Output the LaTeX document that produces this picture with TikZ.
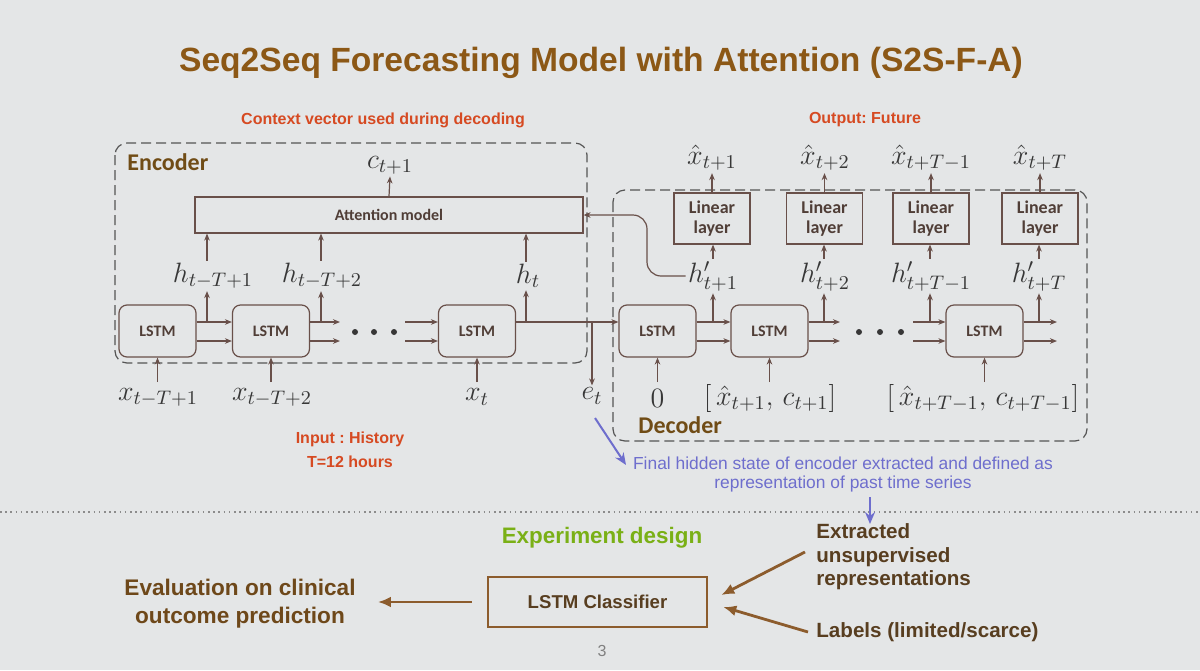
\RequirePackage{fix-cm}
\documentclass[tikz,border=0pt]{standalone}
\usepackage[no-math]{fontspec}
\setmainfont{Liberation Sans}
\newfontfamily\calfont{Carlito}
\usetikzlibrary{arrows.meta,calc}
\definecolor{bg}{RGB}{228,230,231}
\definecolor{titlec}{RGB}{140,88,22}
\definecolor{redl}{RGB}{214,74,34}
\definecolor{linec}{RGB}{105,80,74}
\definecolor{dashc}{RGB}{85,85,85}
\definecolor{grpc}{RGB}{112,76,22}
\definecolor{mathc}{RGB}{55,55,55}
\definecolor{boxtxt}{RGB}{80,62,55}
\definecolor{bluec}{RGB}{110,110,205}
\definecolor{greenc}{RGB}{122,176,22}
\definecolor{brownt}{RGB}{110,72,26}
\definecolor{brownd}{RGB}{88,62,32}
\definecolor{brarrc}{RGB}{140,92,45}
\definecolor{dotc}{RGB}{140,140,140}
\begin{document}
\frenchspacing
\begin{tikzpicture}[x=0.5pt,y=-0.5pt,
  arr/.style={draw=linec,line width=0.6pt,-{Stealth[length=3.5pt,width=2.8pt]}},
  lstm/.style={draw=linec,line width=0.6pt,rounded corners=4pt,minimum width=38.5pt,minimum height=26pt,inner sep=0pt,
    font=\calfont\bfseries\fontsize{8}{9}\selectfont,text=boxtxt},
  linb/.style={draw=linec,line width=0.6pt,minimum width=38pt,minimum height=25.5pt,inner sep=0pt,align=center,
    font=\calfont\bfseries\fontsize{9}{9.6}\selectfont,text=boxtxt},
  attb/.style={draw=linec,line width=0.6pt,minimum width=194pt,minimum height=18pt,inner sep=0pt,
    font=\calfont\bfseries\fontsize{8}{9}\selectfont,text=boxtxt},
  mlab/.style={inner sep=1pt,text=mathc,font=\fontsize{14}{16}\selectfont},
  dbox/.style={draw=dashc,line width=0.6pt,dash pattern=on 5pt off 2.5pt,rounded corners=6pt},
  grp/.style={inner sep=0pt,text=grpc,font=\calfont\bfseries\fontsize{12}{14}\selectfont},
  redt/.style={inner sep=0pt,text=redl,font=\frenchspacing\bfseries\fontsize{8}{12}\selectfont,align=center},
  title/.style={inner sep=0pt,text=titlec,font=\bfseries\fontsize{16.8}{20}\selectfont},
  bluet/.style={inner sep=0pt,text=bluec,font=\fontsize{8.7}{9.5}\selectfont,align=center},
  barr/.style={draw=bluec,line width=1pt,-{Stealth[length=6pt,width=5pt]}},
  greent/.style={inner sep=0pt,text=greenc,font=\bfseries\fontsize{11.2}{13}\selectfont},
  evalt/.style={inner sep=0pt,text=brownt,font=\bfseries\fontsize{11.3}{14}\selectfont,align=center},
  rtxt/.style={inner sep=0pt,text=brownd,font=\bfseries\fontsize{10.3}{11.7}\selectfont,align=left},
  clsb/.style={draw=brarrc,line width=1.3pt,minimum width=109.5pt,minimum height=25pt,inner sep=0pt,text=brownd,
    font=\bfseries\fontsize{9.3}{11}\selectfont},
  brarr/.style={draw=brarrc,line width=1.4pt,-{Latex[length=6.5pt,width=5.5pt]}},
  dotline/.style={draw=dotc,line width=1pt,dash pattern=on 0.8pt off 1.8pt},
  dotf/.style={fill=mathc}
]
\fill[bg] (0,0) rectangle (1200,670);
\useasboundingbox (0,0) rectangle (1200,670);

% title and headings
\node[title] (ttl) at (601,63) {Seq2Seq Forecasting Model with Attention (S2S-F-A)};
\node[redt] (ctx) at (383,120) {Context vector used during decoding};
\node[redt] (outf) at (865,120) {Output: Future};
\node[redt] (inp) at (350,450) {Input : History\\T=12 hours};

% group boxes
\draw[dbox] (115,143) rectangle (587,363);
\draw[dbox] (613,190) rectangle (1087,441);
\node[grp,anchor=west] (enclab) at (127,162) {Encoder};
\node[grp,anchor=west] (declab) at (638,425) {Decoder};

% LSTM cells
\node[lstm] (e1) at (157.5,331) {LSTM};
\node[lstm] (e2) at (271,331) {LSTM};
\node[lstm] (e3) at (477,331) {LSTM};
\node[lstm] (d1) at (657.5,331) {LSTM};
\node[lstm] (d2) at (769.5,331) {LSTM};
\node[lstm] (d3) at (984.5,331) {LSTM};

\coordinate (uy) at (0,322);
\coordinate (ly) at (0,341);
\coordinate (iny) at (0,382);

% encoder chain
\draw[arr] (e1.east|-uy) -- (e2.west|-uy);
\draw[arr] (e1.east|-ly) -- (e2.west|-ly);
\coordinate (e2ou) at (340,322); \coordinate (e2ol) at (340,341);
\draw[arr] (e2.east|-uy) -- (e2ou);
\draw[arr] (e2.east|-ly) -- (e2ol);
\coordinate (e3iu) at (405,322); \coordinate (e3il) at (405,341);
\draw[arr] (e3iu) -- (e3.west|-uy);
\draw[arr] (e3il) -- (e3.west|-ly);
\draw[arr] (e3.east|-uy) -- (d1.west|-uy);
\foreach \xx in {355,374,394,859,880,901} \fill[dotf] (\xx,332) circle (1.5pt);

% decoder chain
\draw[arr] (d1.east|-uy) -- (d2.west|-uy);
\draw[arr] (d1.east|-ly) -- (d2.west|-ly);
\coordinate (d2ou) at (840,322); \coordinate (d2ol) at (840,341);
\draw[arr] (d2.east|-uy) -- (d2ou);
\draw[arr] (d2.east|-ly) -- (d2ol);
\coordinate (d3iu) at (913,322); \coordinate (d3il) at (913,341);
\draw[arr] (d3iu) -- (d3.west|-uy);
\draw[arr] (d3il) -- (d3.west|-ly);
\coordinate (d3ou) at (1057,322); \coordinate (d3ol) at (1057,341);
\draw[arr] (d3.east|-uy) -- (d3ou);
\draw[arr] (d3.east|-ly) -- (d3ol);

% junctions
\coordinate (je1) at (207,322);
\coordinate (je2) at (321,322);
\coordinate (je3) at (526,322);
\coordinate (jet) at (592,322);
\coordinate (jd1) at (713,322);
\coordinate (jd2) at (824,322);
\coordinate (jd3) at (930,322);
\coordinate (jd4) at (1039,322);

% attention
\node[attb] (att) at (389,215) {Attention model};
\node[mlab] (c) at (390,165) {$c_{t+1}$};
\draw[arr] (att.north) -- (c.south);

% encoder hidden states
\node[mlab] (h1) at (213,276) {$h_{t-T+1}$};
\node[mlab] (h2) at (322,276) {$h_{t-T+2}$};
\node[mlab] (h3) at (528,276) {$h_t$};
\draw[arr] (je1) -- (je1|-h1.south);
\draw[arr] (je2) -- (je2|-h2.south);
\draw[arr] (je3) -- (je3|-h3.south);
\draw[arr] (je1|-h1.north) -- (je1|-att.south);
\draw[arr] (je2|-h2.north) -- (je2|-att.south);
\draw[arr] (je3|-h3.north) -- (je3|-att.south);

% encoder inputs
\node[mlab] (x1) at (158,397) {$x_{t-T+1}$};
\node[mlab] (x2) at (272,397) {$x_{t-T+2}$};
\node[mlab] (x3) at (477,397) {$x_t$};
\draw[arr] (e1.south|-iny) -- (e1.south);
\draw[arr] (e2.south|-iny) -- (e2.south);
\draw[arr] (e3.south|-iny) -- (e3.south);

% e_t
\node[mlab] (et) at (592,396) {$e_t$};
\draw[arr] (jet) -- (et.north);

% decoder linear layers
\node[linb] (L1) at (712,218.5) {Linear\\layer};
\node[linb] (L2) at (824.5,218.5) {Linear\\layer};
\node[linb] (L3) at (931,218.5) {Linear\\layer};
\node[linb] (L4) at (1040,218.5) {Linear\\layer};
\node[mlab] (o1) at (712,158) {$\hat{x}_{t+1}$};
\node[mlab] (o2) at (825,158) {$\hat{x}_{t+2}$};
\node[mlab] (o3) at (931,158) {$\hat{x}_{t+T-1}$};
\node[mlab] (o4) at (1040,158) {$\hat{x}_{t+T}$};
\draw[arr] (L1.north) -- (L1.north|-o1.south);
\draw[arr] (L2.north) -- (L2.north|-o2.south);
\draw[arr] (L3.north) -- (L3.north|-o3.south);
\draw[arr] (L4.north) -- (L4.north|-o4.south);

\node[mlab] (hp1) at (713,276) {$h'_{t+1}$};
\node[mlab] (hp2) at (825,276) {$h'_{t+2}$};
\node[mlab] (hp3) at (931,276) {$h'_{t+T-1}$};
\node[mlab] (hp4) at (1039,276) {$h'_{t+T}$};
\draw[arr] (jd1) -- (jd1|-hp1.south);
\draw[arr] (jd2) -- (jd2|-hp2.south);
\draw[arr] (jd3) -- (jd3|-hp3.south);
\draw[arr] (jd4) -- (jd4|-hp4.south);
\draw[arr] (jd1|-hp1.north) -- (jd1|-L1.south);
\draw[arr] (jd2|-hp2.north) -- (jd2|-L2.south);
\draw[arr] (jd3|-hp3.north) -- (jd3|-L3.south);
\draw[arr] (jd4|-hp4.north) -- (jd4|-L4.south);

% decoder state to attention
\coordinate (bend) at (647,215);
\draw[arr,rounded corners=7pt] (hp1.west) -| (bend) -- (att.east);

% decoder inputs
\node[mlab] (z0) at (657.5,398) {$0$};
\node[mlab,inner sep=0pt] (in2) at (770,398) {$[\,\hat{x}_{t+1},\,c_{t+1}]$};
\node[mlab,inner sep=0pt] (in3) at (983,398) {$[\,\hat{x}_{t+T-1},\,c_{t+T-1}]$};
\draw[arr] (d1.south|-iny) -- (d1.south);
\draw[arr] (d2.south|-iny) -- (d2.south);
\draw[arr] (d3.south|-iny) -- (d3.south);

% blue annotation
\node[bluet] (fin) at (843,474.5) {Final hidden state of encoder extracted and defined as\\representation of past time series};
\coordinate (b1) at (595,418);
\coordinate (b2) at (626,465);
\draw[barr] (b1) -- (b2);

% separator
\coordinate (sepL) at (0,512);
\coordinate (sepR) at (1200,512);
\draw[dotline] (sepL) -- (sepR);
\coordinate (bd1) at (870,497);
\coordinate (bd2) at (870,524);
\draw[barr] (bd1) -- (bd2);

% experiment design
\node[greent] (exp) at (602,538) {Experiment design};
\node[clsb] (cls) at (597.5,602) {LSTM Classifier};
\node[evalt] (eval) at (240,604) {Evaluation on clinical\\outcome prediction};
\node[rtxt,anchor=west] (ext) at (816,557) {Extracted\\unsupervised\\representations};
\node[rtxt,anchor=west] (lab) at (816,632) {Labels (limited/scarce)};
\draw[brarr,shorten <=7.5pt,shorten >=11pt] (cls.west) -- (eval.east|-cls.west);
\draw[brarr] ($(ext.west)+(-11,-5)$) -- ($(cls.east)+(13,-7)$);
\draw[brarr] ($(lab.west)+(-8,0)$) -- ($(cls.east)+(15,5)$);
\node[inner sep=0pt,text=gray,font=\fontsize{8}{9}\selectfont] (pg) at (602,651) {3};
\end{tikzpicture}
\end{document}
